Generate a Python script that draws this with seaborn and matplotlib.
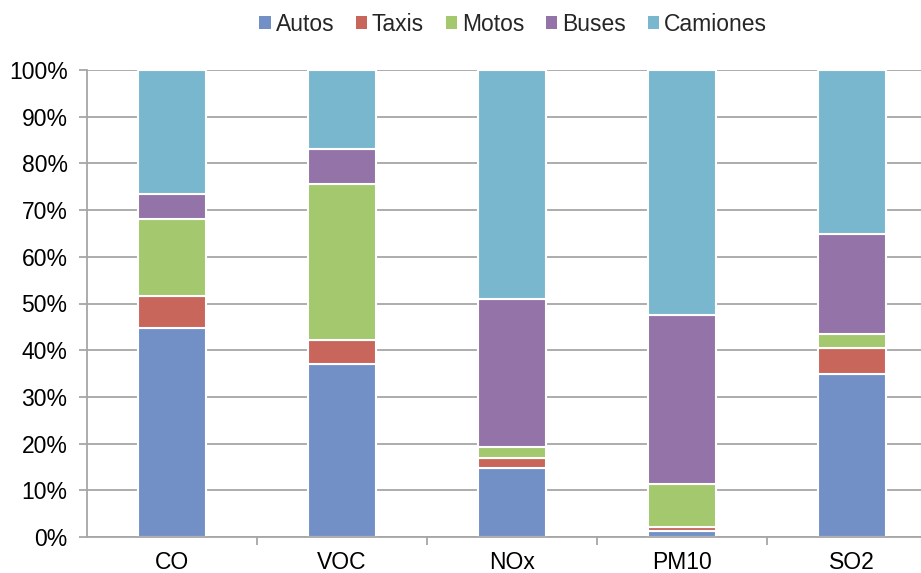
import matplotlib
matplotlib.use("Agg")
import matplotlib.pyplot as plt
import seaborn as sns
import pandas as pd
import numpy as np
from matplotlib.patches import Patch
from matplotlib.ticker import FixedLocator, PercentFormatter

categories = ["CO", "VOC", "NOx", "PM10", "SO2"]
series = ["Autos", "Taxis", "Motos", "Buses", "Camiones"]
autos = [44.8, 37.1, 14.7, 1.3, 34.8]
taxis = [6.8, 5.0, 2.2, 0.8, 5.6]
motos = [16.5, 33.5, 2.4, 9.2, 3.0]
buses = [5.3, 7.5, 31.6, 36.2, 21.5]
camiones = [26.6, 16.9, 49.1, 52.5, 35.1]
colors = ["#7290C6", "#C8665C", "#A3C86E", "#9474A8", "#79B7CF"]

values = [autos, taxis, motos, buses, camiones]

sns.set_theme(style="white")
plt.rcParams["font.family"] = ["Liberation Sans", "DejaVu Sans"]

fig = plt.figure(figsize=(9.21, 5.73), dpi=100)
ax = fig.add_axes([87/921, 36/573, (921-87)/921, (537-70)/573])

bottom = np.zeros(len(categories))
for name, vals, col in zip(series, values, colors):
    df = pd.DataFrame({"cat": categories, "val": vals})
    sns.barplot(data=df, x="cat", y="val", ax=ax, color=col, width=0.4,
                bottom=bottom.copy(), edgecolor="white", linewidth=1.5,
                saturation=1, errorbar=None)
    bottom += np.array(vals)

ax.set_xlim(-0.5, 4.405)
ax.set_ylim(0, 100)
ax.set_yticks(np.arange(0, 101, 10))
ax.yaxis.set_major_formatter(PercentFormatter(decimals=0))
ax.set_xlabel("")
ax.set_ylabel("")
ax.set_axisbelow(True)
ax.yaxis.grid(True, color="#A6A6A6", linewidth=1.3)
ax.xaxis.grid(False)
for s in ["top", "right"]:
    ax.spines[s].set_visible(False)
for s in ["left", "bottom"]:
    ax.spines[s].set_color("#A6A6A6")
    ax.spines[s].set_linewidth(1.3)
ax.tick_params(axis="y", which="major", left=True, length=6, width=1.3,
               color="#A6A6A6", labelsize=16.5, pad=8, labelcolor="black")
ax.tick_params(axis="x", which="major", bottom=False, labelsize=16.5, pad=4,
               labelcolor="black")
ax.xaxis.set_minor_locator(FixedLocator([0.5, 1.5, 2.5, 3.5]))
ax.tick_params(axis="x", which="minor", bottom=True, length=6, width=1.3,
               color="#A6A6A6")

handles = [Patch(facecolor=c, edgecolor="none", label=n) for n, c in zip(series, colors)]
fig.legend(handles=handles, loc="center", bbox_to_anchor=(0.557, 0.958), ncol=5,
           frameon=False, fontsize=16.5, handlelength=0.5, handleheight=0.5,
           handletextpad=0.2, columnspacing=0.95)

fig.savefig("out.png", dpi=100)
